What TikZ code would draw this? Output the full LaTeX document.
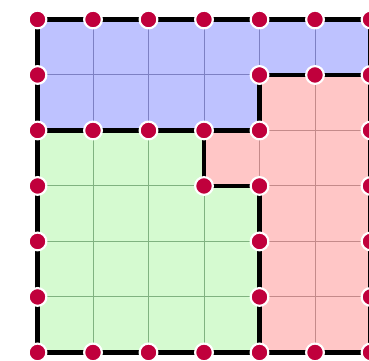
\documentclass[tikz,border=0pt]{standalone}
\usetikzlibrary{positioning}
\definecolor{regblue}{RGB}{190,194,255}
\definecolor{reggreen}{RGB}{213,250,208}
\definecolor{regred}{RGB}{255,198,198}
\definecolor{lineblue}{RGB}{125,128,195}
\definecolor{linegreen}{RGB}{128,178,128}
\definecolor{linered}{RGB}{196,138,138}
\definecolor{dotred}{RGB}{192,0,60}
\tikzset{border/.style={line width=2.4pt,line cap=round},
  gridline/.style={line width=0.5pt},
  vertex/.style={circle,fill=dotred,draw=white,line width=1.1pt,
  inner sep=0pt,minimum size=0.32cm}}

\begin{document}
\begin{tikzpicture}
\useasboundingbox (-0.676,-0.153) rectangle (5.973,6.351);
% the three regions
\def\blueregion{(0,6)--(6,6)--(6,5)--(4,5)--(4,4)--(0,4)--cycle}
\def\redregion{(6,5)--(6,0)--(4,0)--(4,3)--(3,3)--(3,4)--(4,4)--(4,5)--cycle}
\def\greenregion{(0,4)--(3,4)--(3,3)--(4,3)--(4,0)--(0,0)--cycle}
\foreach \reg/\col/\lin in {\blueregion/regblue/lineblue,
  \redregion/regred/linered,\greenregion/reggreen/linegreen} {
  \begin{scope}
  \fill[\col] \reg;
  \clip \reg;
  \draw[gridline,\lin] (0,0) grid (6,6);
  \end{scope}
}
% boundaries
\draw[border] (0,0) rectangle (6,6);
\draw[border] (0,4) -- (4,4) -- (4,5) -- (6,5);
\draw[border] (3,4) -- (3,3) -- (4,3) -- (4,0);
% vertices
\foreach \x in {0,...,6} {
  \node[vertex] (v-\x-0) at (\x,0) {};
  \node[vertex] (v-\x-6) at (\x,6) {};
}
\foreach \y in {1,...,5} {
  \node[vertex] (v-0-\y) at (0,\y) {};
  \node[vertex] (v-6-\y) at (6,\y) {};
}
\foreach \x/\y in {1/4,2/4,3/4,4/4,4/5,5/5,3/3,4/3,4/2,4/1}
  \node[vertex] (v-\x-\y) at (\x,\y) {};
\end{tikzpicture}
\end{document}
